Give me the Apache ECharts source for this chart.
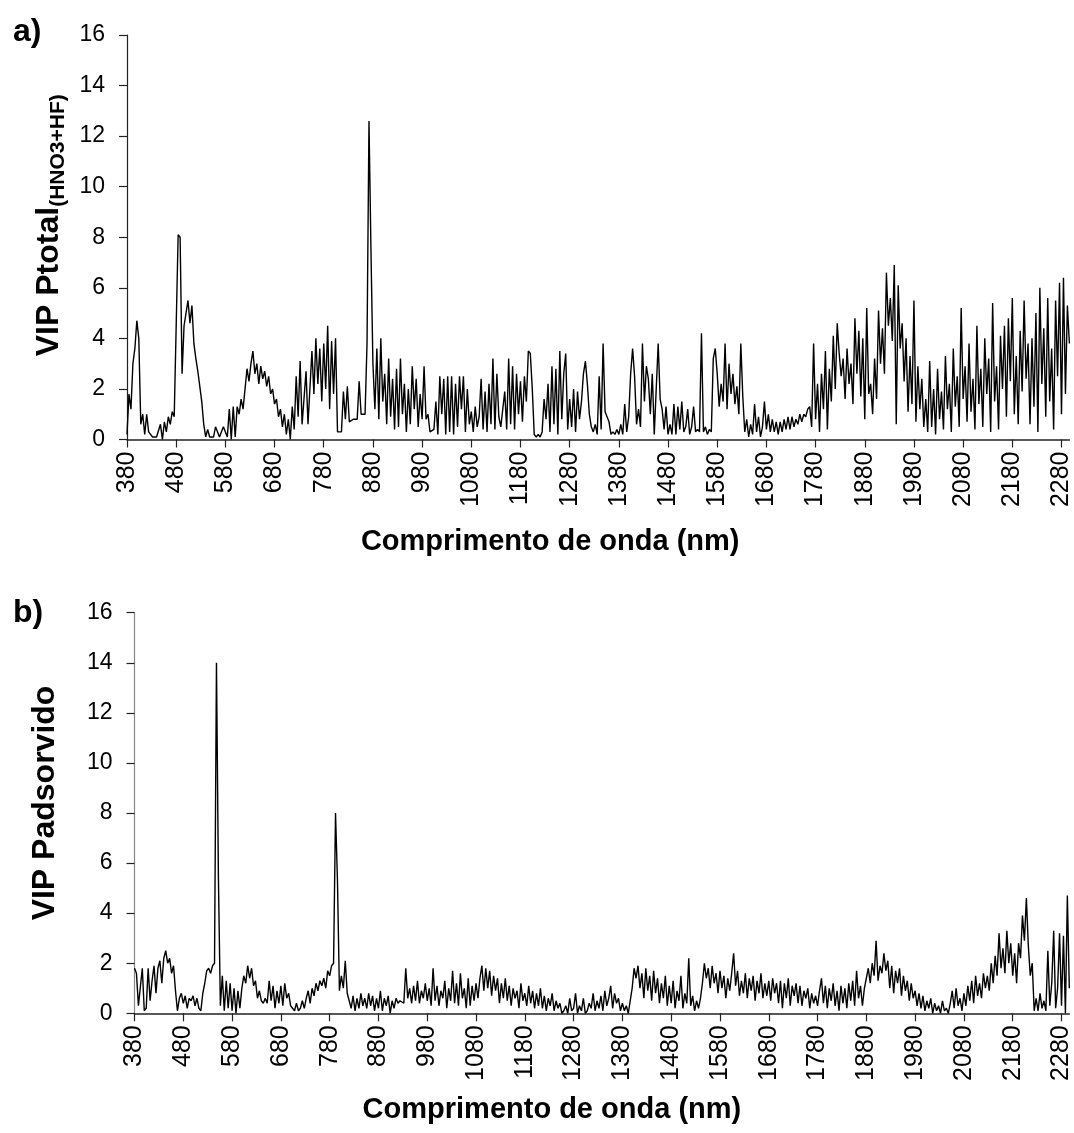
<!DOCTYPE html>
<html><head><meta charset="utf-8">
<script src="https://cdn.jsdelivr.net/npm/echarts@6/dist/echarts.min.js"></script>
<style>html,body{margin:0;padding:0;background:#fff}#c{width:1074px;height:1133px}</style>
</head><body><div id="c"></div><script>
// wavelength grid (nm), 4 nm step, 380 .. 2296
const wavelengths = [];
for (let w = 380; w <= 2296; w += 4) wavelengths.push(String(w));

const yTicks = [0, 2, 4, 6, 8, 10, 12, 14, 16];

// Panel a) VIP Ptotal(HNO3+HF) — one row per 100 nm (25 values)
const vipPtotal = [
  0.2,1.8,1.2,3.0,3.6,4.7,4.0,0.6,1.0,0.2,1.0,0.3,0.3,0.1,0.1,0.1,0.1,0.6,0.0,0.7,0.3,0.9,0.6,1.1,0.9,
  0.9,8.1,8.0,2.6,4.5,4.5,5.5,4.6,5.3,3.8,3.2,2.7,2.1,1.5,0.6,0.1,0.4,0.1,0.1,0.1,0.5,0.5,0.1,0.1,0.5,
  0.5,0.1,1.2,0.0,1.3,0.1,1.3,1.0,1.6,1.2,2.0,2.8,2.3,3.0,3.5,2.6,3.0,2.2,2.9,2.4,2.7,2.1,2.5,1.8,2.0,
  1.4,1.6,0.9,1.2,0.5,1.0,0.2,0.8,0.0,1.3,0.4,2.5,0.9,3.1,0.6,0.6,2.7,0.6,0.6,3.5,1.8,4.0,2.2,3.6,1.5,
  3.8,2.0,4.5,1.2,3.9,1.8,4.0,0.3,0.3,0.3,1.9,0.8,2.1,0.7,0.7,0.8,0.8,0.8,2.3,1.0,1.0,1.0,3.8,12.6,7.5,
  3.0,1.2,3.6,0.8,4.0,1.5,2.6,0.6,3.2,0.9,2.4,0.4,2.8,0.5,3.2,1.0,2.2,0.3,2.0,0.6,2.9,1.2,2.4,0.5,1.8,
  0.8,2.9,0.8,1.0,0.3,0.3,0.4,1.5,0.2,2.5,1.0,2.4,0.2,2.5,0.3,2.5,0.2,2.2,0.5,2.5,1.2,2.5,0.3,2.0,0.6,
  1.1,0.3,1.3,0.5,0.9,2.4,0.4,1.9,0.3,2.2,0.6,3.2,0.4,2.6,0.9,0.5,0.5,1.9,0.4,3.2,0.6,2.9,0.4,2.6,1.0,
  2.3,0.7,2.5,1.5,3.5,3.4,2.0,0.2,0.1,0.2,0.1,0.3,1.6,0.8,2.2,0.3,2.9,0.6,2.8,0.2,3.5,0.8,2.6,3.4,0.4,
  1.6,0.5,2.0,0.3,1.9,0.8,1.5,2.6,3.1,2.2,1.0,0.5,0.3,0.6,0.2,2.5,0.4,3.8,1.1,1.1,0.7,0.2,0.3,0.2,0.4,
  0.2,0.6,0.2,1.4,0.3,0.9,2.6,3.6,2.5,0.6,1.2,0.5,3.8,1.5,2.9,2.4,1.0,2.6,0.2,2.0,3.8,1.6,1.2,0.4,1.3,
  0.2,0.6,0.2,1.4,0.2,1.3,0.4,1.5,0.3,0.5,1.2,0.2,0.5,1.3,0.3,0.4,0.3,4.2,0.3,0.5,0.2,0.4,0.3,3.2,3.6,
  2.6,1.3,2.2,1.5,3.8,1.2,3.0,1.8,2.6,1.4,2.1,1.0,3.8,1.7,0.3,0.8,0.1,0.6,0.2,1.4,0.3,0.9,0.1,0.5,1.5,
  0.4,1.0,0.3,0.8,0.3,0.7,0.2,0.7,0.3,0.8,0.4,0.9,0.4,0.9,0.5,0.8,0.6,1.0,0.7,1.0,0.9,1.2,1.3,0.5,3.8,
  0.8,2.2,0.3,2.6,1.2,3.5,0.4,2.8,1.5,4.1,2.0,4.6,3.4,2.5,3.2,1.6,3.6,2.2,3.0,1.4,4.8,2.6,4.3,1.7,4.0,
  0.8,5.2,1.8,2.2,1.0,3.2,1.6,5.1,3.0,4.4,2.6,6.6,4.5,5.6,3.9,6.9,0.6,6.1,3.6,4.6,2.3,4.0,1.1,3.3,1.4,
  5.5,0.7,2.9,1.2,2.4,0.5,1.6,0.3,3.1,0.5,2.0,0.2,2.8,0.8,1.9,0.4,3.3,1.2,2.2,0.3,3.6,1.3,2.5,0.5,5.2,
  1.6,2.9,0.7,3.8,1.1,2.4,0.4,4.5,1.4,2.8,0.5,4.0,1.8,3.2,0.3,5.4,1.5,2.9,0.4,4.1,2.0,4.5,0.9,4.8,2.3,
  5.6,1.0,3.3,0.6,4.3,1.9,5.5,2.4,3.8,0.6,4.0,1.3,5.0,0.3,6.0,2.2,4.4,0.9,5.6,1.5,3.6,0.4,5.5,2.5,6.2,
  1.0,6.4,1.8,5.3,3.8
];

// Panel b) VIP Padsorvido — one row per 100 nm (25 values)
const vipPadsorvido = [
  1.8,1.6,0.3,0.3,1.8,0.1,0.2,1.8,0.5,1.3,1.9,0.8,1.8,2.1,1.2,2.2,2.5,2.0,2.2,1.6,1.9,0.9,0.1,0.6,0.8,
  0.4,0.7,0.2,0.6,0.5,0.7,0.3,0.6,0.2,0.1,0.8,1.2,1.7,1.8,1.6,1.9,2.0,14.0,5.4,0.3,1.5,0.1,1.3,0.2,1.2,
  0.1,1.0,0.0,0.9,0.2,1.0,1.5,1.2,1.9,1.4,1.8,1.1,1.3,0.6,0.9,0.5,0.4,0.6,0.4,1.3,0.5,1.1,0.2,0.9,0.4,
  1.1,0.3,1.2,0.6,0.8,0.3,0.2,0.1,0.4,0.1,0.2,0.5,0.2,0.6,0.9,0.4,1.0,0.7,1.2,0.9,1.3,1.1,1.4,1.0,1.7,
  1.5,1.9,2.0,8.0,5.3,0.9,1.5,1.0,2.1,0.8,0.5,0.2,0.7,0.1,0.6,0.2,0.8,0.3,0.6,0.2,0.8,0.3,0.7,0.1,0.6,
  0.2,0.9,0.1,0.6,0.3,0.7,0.0,0.5,0.2,0.6,0.4,0.5,0.5,0.4,1.8,0.6,1.0,0.4,1.1,0.5,1.3,0.4,0.9,0.6,1.2,
  0.5,1.0,0.3,1.8,0.5,1.1,0.3,0.9,0.6,1.3,0.2,1.0,0.5,1.7,0.4,1.2,0.3,1.6,0.6,1.0,0.2,1.4,0.3,1.1,0.5,
  1.2,0.6,1.4,1.9,0.9,1.8,1.0,1.7,0.7,1.5,0.9,1.4,0.4,1.2,0.6,1.4,0.5,1.1,0.3,1.0,0.6,0.9,0.2,1.2,0.5,
  0.8,0.3,1.1,0.4,0.9,0.2,0.8,0.3,1.0,0.2,0.7,0.1,0.6,0.3,0.8,0.1,0.5,0.2,0.4,0.0,0.1,0.3,0.0,0.6,0.1,
  0.2,0.8,0.0,0.3,0.1,0.6,0.0,0.1,0.4,0.2,0.8,0.1,0.5,0.2,0.7,0.1,0.9,0.3,0.6,1.1,0.2,0.8,0.4,0.6,0.1,
  0.4,0.1,0.3,0.0,0.5,1.0,1.8,1.4,1.9,1.0,1.6,0.6,1.8,0.9,1.5,0.5,1.7,0.8,1.4,0.4,1.2,0.6,1.5,0.3,1.1,
  0.4,1.3,0.2,0.9,0.5,1.5,0.2,0.8,0.4,2.2,0.3,0.7,0.1,0.5,0.2,0.6,1.2,2.0,1.4,1.8,1.0,1.9,1.2,1.6,0.8,
  1.7,1.0,1.5,0.6,1.4,0.9,1.6,2.4,1.1,1.7,0.7,1.3,0.8,1.6,0.6,1.4,0.9,1.5,0.5,1.3,0.8,1.6,0.6,1.2,0.7,
  1.3,0.5,1.4,0.8,1.2,0.4,1.3,0.2,1.2,0.6,1.4,0.3,1.1,0.7,1.2,0.4,1.1,0.3,0.9,0.6,1.0,0.2,0.8,0.4,0.7,
  0.3,0.9,1.4,0.4,1.1,0.2,1.0,0.5,1.2,0.3,0.9,0.1,1.1,0.4,1.0,0.2,1.2,0.5,1.3,0.3,1.7,0.6,1.1,0.3,1.0,
  1.4,1.8,1.2,2.0,1.5,2.9,1.3,1.9,1.6,2.4,1.7,2.1,1.0,1.9,0.8,1.7,1.2,1.8,0.7,1.5,0.9,1.3,0.5,1.2,0.6,
  0.9,0.3,0.8,0.2,0.7,0.1,0.5,0.2,0.6,0.0,0.4,0.1,0.3,0.0,0.5,0.1,0.2,0.0,0.4,0.9,0.2,1.0,0.3,0.6,0.1,
  0.8,0.3,1.1,0.5,1.3,0.4,1.5,0.7,1.2,0.6,1.6,1.0,1.5,0.9,2.0,1.2,2.3,1.5,3.2,1.8,2.6,1.6,3.3,2.0,2.8,
  1.5,2.4,1.2,2.8,2.2,3.9,2.9,4.6,2.7,1.5,2.0,0.1,0.6,0.1,0.8,0.2,0.5,0.1,2.5,0.3,1.2,3.3,0.2,1.0,3.2,
  0.3,3.1,0.0,4.7,1.0
];

const FONT = 'Liberation Sans, Arial, sans-serif';

function xAxis(gridIndex, gap, shiftPad) {
  return {
    type: 'category', gridIndex, data: wavelengths, boundaryGap: false,
    axisLine: { show: true, lineStyle: { color: '#222', width: 1.5 } },
    axisTick: { show: true, interval: 24, length: 8, lineStyle: { color: '#222', width: 1.2 } },
    axisLabel: { interval: 24, rotate: 90, margin: 12, fontSize: 25, color: '#000', fontFamily: FONT },
    name: 'Comprimento de onda (nm)', nameLocation: 'middle', nameGap: gap,
    nameTextStyle: { fontSize: 29, fontWeight: 'bold', fontFamily: FONT, color: '#000', padding: [0, shiftPad, 0, 0] }
  };
}
function yAxis(gridIndex, name, rich, gap, pad, lineColor) {
  return {
    type: 'value', gridIndex, min: yTicks[0], max: yTicks[yTicks.length - 1], interval: 2,
    axisLine: { show: true, lineStyle: { color: lineColor, width: 1.2 } },
    axisTick: { show: true, length: 8, lineStyle: { color: '#222', width: 1.2 } },
    axisLabel: { margin: 22, fontSize: 23, color: '#000', fontFamily: FONT },
    splitLine: { show: false },
    name, nameLocation: 'middle', nameGap: gap, nameRotate: 90,
    nameTextStyle: { fontSize: 32, fontWeight: 'bold', fontFamily: FONT, color: '#000', rich, padding: [0, 0, 0, pad] }
  };
}

const chart = echarts.init(document.getElementById('c'), null, { renderer: 'canvas' });
chart.setOption({
  animation: false,
  backgroundColor: '#fff',
  title: [
    { text: 'a)', left: 8, top: 11, textStyle: { fontSize: 32, fontWeight: 'bold', fontFamily: FONT, color: '#000' } },
    { text: 'b)', left: 8, top: 592, textStyle: { fontSize: 32, fontWeight: 'bold', fontFamily: FONT, color: '#000' } }
  ],
  grid: [
    { left: 127, top: 35, width: 946, height: 404.5 },
    { left: 134.5, top: 612.7, width: 936, height: 400.6 }
  ],
  xAxis: [xAxis(0, 88, 96), xAxis(1, 82, 100)],
  yAxis: [
    yAxis(0, '{a|VIP Ptotal}{b|(HNO3+HF)}', {
      a: { fontSize: 32, fontWeight: 'bold', fontFamily: FONT, color: '#000', lineHeight: 38, verticalAlign: 'middle' },
      b: { fontSize: 21, fontWeight: 'bold', fontFamily: FONT, color: '#000', lineHeight: 14, verticalAlign: 'bottom' }
    }, 58, 24, '#222'),
    yAxis(1, 'VIP Padsorvido', {}, 73, 20, '#888')
  ],
  series: [
    { type: 'line', xAxisIndex: 0, yAxisIndex: 0, data: vipPtotal, showSymbol: false, symbol: 'none',
      lineStyle: { color: '#000', width: 1.4 }, silent: true },
    { type: 'line', xAxisIndex: 1, yAxisIndex: 1, data: vipPadsorvido, showSymbol: false, symbol: 'none',
      lineStyle: { color: '#000', width: 1.4 }, silent: true }
  ]
});
</script></body></html>
